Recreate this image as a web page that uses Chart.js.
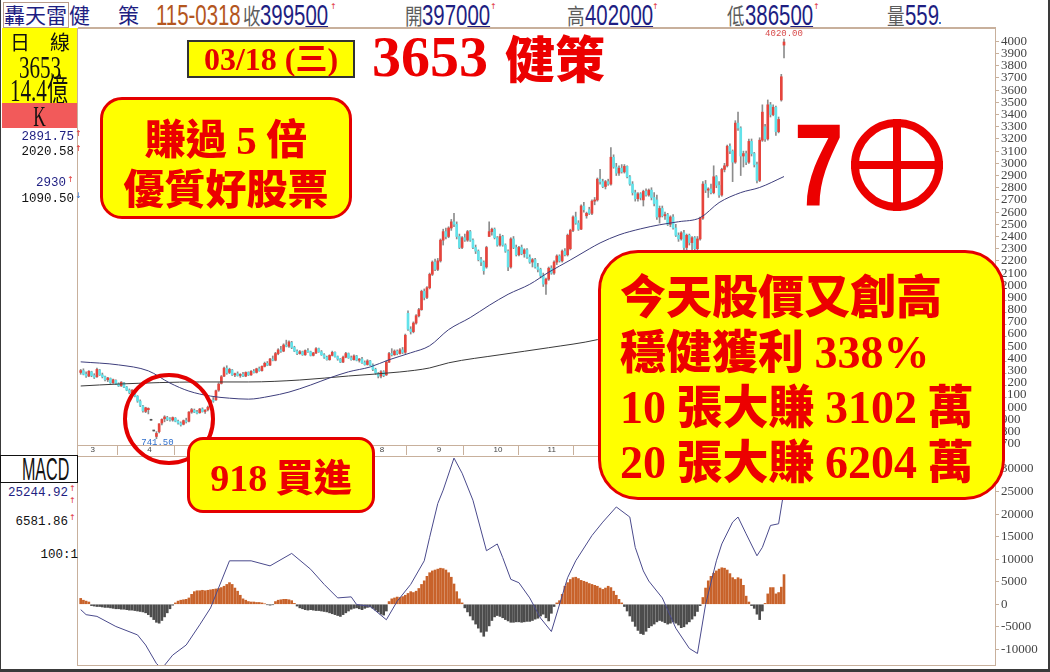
<!DOCTYPE html>
<html>
<head>
<meta charset="utf-8">
<title>3653 健策</title>
<script src="https://cdn.jsdelivr.net/npm/chart.js@4.4.1/dist/chart.umd.min.js"></script>
<style>
  body { margin: 0; background: #fff; }
  #page { position: relative; width: 1050px; height: 672px; overflow: hidden; background: #fff;
          font-family: "Liberation Serif", "Noto Sans CJK TC", serif; }
  .a { position: absolute; white-space: nowrap; }
  .tan { position: absolute; background: #c8b09c; }
  .edge { position: absolute; background: #3a3a3a; }
  .navy { color: #1e1e82; }
  .gray { color: #5c5c5c; }
  .hz { font-family: "Noto Sans CJK TC", sans-serif; font-size: 22px; line-height: 28px; top: 0; }
  .hzs { transform: scaleX(0.8); transform-origin: 0 0; }
  .hn { font-family: "Liberation Sans", sans-serif; font-size: 30px; line-height: 30px; top: 0;
        transform: scaleX(0.68); transform-origin: 0 0; }
  .hn u { text-decoration-thickness: 1px; text-underline-offset: 1px; }
  .mk { font-size: 8px; line-height: 8px; color: #e03030; font-family: "DejaVu Sans", sans-serif; }
  .lc { left: -41px; width: 161px; text-align: center; font-size: 32px; line-height: 32px; color: #111; }
  .lc span { display: inline-block; transform: scaleX(0.66); }
  .lz { font-family: "Noto Sans CJK TC", sans-serif; font-size: 20px; line-height: 20px; color: #111; }
  .lv { font-family: "Liberation Mono", monospace; font-size: 12.5px; line-height: 14px; text-align: right; }
  .box { position: absolute; background: #ffff00; border: 3px solid #e40000; box-sizing: border-box; }
  .t { position: absolute; white-space: nowrap; line-height: 1; color: #ec0000; font-weight: 900;
       font-family: "Noto Sans CJK TC", sans-serif; }
  .t b { font-family: "Liberation Serif", serif; font-weight: bold; }
</style>
</head>
<body>
<div id="page">
  <!-- header row -->
  <div class="a" style="left:3px;top:2px;width:64px;height:24px;border:1px solid #b89c8c"></div>
  <div class="a hz navy" style="left:4px;font-size:21px">轟天雷</div>
  <div class="a hz navy" style="left:69px;font-size:21px">健</div>
  <div class="a hz navy" style="left:118px;font-size:21px">策</div>
  <div class="a hn" style="left:156px;color:#b4561e">115-0318</div>
  <div class="a hz hzs gray" style="left:243px">收</div>
  <div class="a hn navy" style="left:260px">3995<u>00</u></div>
  <div class="a mk" style="left:330px;top:3px">↑</div>
  <div class="a hz hzs gray" style="left:405px">開</div>
  <div class="a hn navy" style="left:422px">3970<u>00</u></div>
  <div class="a mk" style="left:490px;top:3px">↑</div>
  <div class="a hz hzs gray" style="left:567px">高</div>
  <div class="a hn navy" style="left:585px">4020<u>00</u></div>
  <div class="a mk" style="left:652px;top:3px">↑</div>
  <div class="a hz hzs gray" style="left:727px">低</div>
  <div class="a hn navy" style="left:745px">3865<u>00</u></div>
  <div class="a mk" style="left:813px;top:3px">↑</div>
  <div class="a hz hzs gray" style="left:887px">量</div>
  <div class="a hn navy" style="left:905px">559</div>
  <div class="a" style="left:939px;top:22px;width:2px;height:2px;background:#3a78d0"></div>

  <!-- chart canvases -->
  <canvas id="price" class="a" width="972" height="428" style="left:78px;top:28px"></canvas>
  <canvas id="macd" class="a" width="972" height="210" style="left:78px;top:456px"></canvas>

  <!-- frame lines -->
  <div class="tan" style="left:78px;top:27px;width:918px;height:2px"></div>
  <div class="tan" style="left:77px;top:28px;width:1px;height:638px"></div>
  <div class="tan" style="left:78px;top:456px;width:917px;height:1px"></div>
  <div class="tan" style="left:78px;top:665px;width:917px;height:1px"></div>
  <div class="edge" style="left:0;top:0;width:1px;height:672px"></div>
  <div class="edge" style="left:1048px;top:0;width:2px;height:672px"></div>
  <div class="edge" style="left:0;top:669px;width:1050px;height:3px"></div>

  <!-- left panel -->
  <div class="a" style="left:2px;top:28px;width:75px;height:75px;background:#ffff00"></div>
  <div class="a lz" style="left:10px;top:32px">日</div>
  <div class="a lz" style="left:50px;top:32px">線</div>
  <div class="a lc" style="top:51px"><span>3653</span></div>
  <div class="a lc" style="top:74px"><span>14.4億</span></div>
  <div class="a" style="left:2px;top:103px;width:75px;height:25px;background:#f25a5a"></div>
  <div class="a lc" style="top:102px;font-size:29px;line-height:29px"><span style="transform:scaleX(0.6)">K</span></div>
  <div class="a lv navy" style="right:976px;top:130px">2891.75</div>
  <div class="a mk" style="left:75px;top:130px">↑</div>
  <div class="a lv" style="right:976px;top:145px;color:#111">2020.58</div>
  <div class="a mk" style="left:75px;top:145px">↑</div>
  <div class="a lv navy" style="right:984px;top:176px">2930</div>
  <div class="a mk" style="left:67px;top:176px">↑</div>
  <div class="a lv" style="right:976px;top:192px;color:#111">1090.50</div>
  <div class="a mk" style="left:75px;top:192px;color:#3a78d0">↓</div>

  <div class="a" style="left:0;top:455px;width:78px;height:28px;border:1.5px solid #111;box-sizing:border-box;background:#fff"></div>
  <div class="a" style="left:0;top:455px;width:78px;text-align:center;font-family:'Liberation Sans';font-size:31px;line-height:29px;color:#111"><span style="display:inline-block;transform:scaleX(0.52)">MACD</span></div>
  <div class="a lv navy" style="right:982px;top:486px">25244.92</div>
  <div class="a mk" style="left:69px;top:485px">↑</div>
  <div class="a mk" style="left:69px;top:497px">↑</div>
  <div class="a lv" style="right:982px;top:515px;color:#111">6581.86</div>
  <div class="a mk" style="left:69px;top:514px">↑</div>
  <div class="a lv" style="right:972px;top:548px;color:#111">100:1</div>

  <!-- annotations -->
  <div class="a" style="left:123px;top:373px;width:92px;height:92px;border:4px solid #e40000;border-radius:50%;box-sizing:border-box"></div>

  <div class="box" style="left:187px;top:40px;width:168px;height:38px;border:2px solid #333"></div>
  <div class="a" style="left:187px;top:43px;width:168px;text-align:center;font-size:32px;line-height:32px;font-weight:bold;color:#e40000">03/18 (三)</div>

  <div class="a" style="left:372px;top:28px;font-size:58px;line-height:58px;font-weight:bold;color:#ec0000">3653</div>
  <div class="t" style="left:505px;top:31px;font-size:50px">健策</div>

  <div class="box" style="left:100px;top:97px;width:252px;height:122px;border-radius:22px"></div>
  <div class="t" style="left:100px;top:116px;width:252px;text-align:center;font-size:41px">賺過 <b>5</b> 倍</div>
  <div class="t" style="left:100px;top:166px;width:252px;text-align:center;font-size:41px">優質好股票</div>

  <div class="box" style="left:187px;top:437px;width:188px;height:76px;border-radius:16px"></div>
  <div class="t" style="left:187px;top:456px;width:188px;text-align:center;font-size:38px"><b>918</b> 買進</div>

  <div class="a" style="left:794px;top:107px;font-family:'Liberation Sans';font-weight:bold;font-size:116px;line-height:116px;color:#ec0000;transform:scaleX(0.77);transform-origin:0 0">7</div>
  <div class="a" style="left:851px;top:119px;width:92px;height:92px;border:8px solid #ec0000;border-radius:50%;box-sizing:border-box"></div>
  <div class="a" style="left:893px;top:119px;width:8px;height:92px;background:#ec0000"></div>
  <div class="a" style="left:851px;top:161px;width:92px;height:8px;background:#ec0000"></div>

  <div class="box" style="left:598px;top:250px;width:407px;height:250px;border-radius:40px"></div>
  <div class="t" style="left:620px;top:270px;font-size:46px">今天股價又創高</div>
  <div class="t" style="left:620px;top:325px;font-size:46px">穩健獲利 <b>338%</b></div>
  <div class="t" style="left:620px;top:380px;font-size:46px"><b>10</b> 張大賺 <b>3102</b> 萬</div>
  <div class="t" style="left:620px;top:435px;font-size:46px"><b>20</b> 張大賺 <b>6204</b> 萬</div>
</div>

<script>
// daily candles, 2025/02 .. 2026/03/18 (index = trading day)
const opens = [
  1285,1300,1270,1255,1290,1260,1250,1305,1265,1250,
  1225,1235,1200,1220,1190,1175,1200,1165,1140,1120,
  1135,1090,1050,1010,965,980,893,805,760,800,
  870,905,915,900,895,910,885,870,860,890,
  885,960,975,960,955,985,965,980,1005,1055,
  1060,1140,1195,1255,1320,1285,1305,1265,1275,1260,
  1270,1255,1285,1265,1295,1285,1315,1300,1335,1360,
  1345,1395,1385,1440,1470,1460,1510,1500,1530,1490,
  1460,1440,1455,1430,1465,1455,1425,1445,1480,1455,
  1430,1410,1390,1425,1450,1415,1395,1370,1410,1440,
  1405,1390,1420,1385,1395,1365,1350,1380,1345,1310,
  1275,1255,1290,1265,1370,1440,1430,1460,1440,1470,
  1450,1770,1640,1620,1690,1750,1800,1950,1900,1980,
  2090,2190,2130,2200,2370,2440,2400,2470,2520,2500,
  2400,2310,2390,2370,2440,2370,2310,2280,2210,2190,
  2150,2400,2440,2460,2390,2330,2400,2330,2280,2150,
  2380,2310,2250,2310,2260,2290,2230,2190,2210,2150,
  2130,2080,2010,2050,2140,2100,2190,2240,2200,2280,
  2250,2300,2450,2560,2510,2460,2650,2570,2620,2590,
  2690,2700,2870,2850,2810,2850,2830,3050,2970,2920,
  2960,2930,2975,2890,2830,2760,2710,2750,2700,2770,
  2740,2780,2720,2700,2560,2630,2570,2580,2500,2560,
  2470,2410,2380,2430,2310,2410,2350,2390,2300,2380,
  2550,2830,2780,2790,2760,2890,2820,2740,2950,2980,
  3140,3100,3010,3330,3290,3060,3080,3010,3180,3080,
  2990,2860,3190,3300,3200,3480,3400,3460,3260,3520,3970
];
const highs = [
  1310,1315,1290,1300,1295,1275,1320,1310,1280,1255,
  1245,1240,1230,1225,1200,1210,1205,1170,1150,1145,
  1140,1095,1060,1015,1000,995,893,805,800,864,
  905,930,925,915,920,915,895,880,895,910,
  965,990,985,975,990,995,980,1010,1060,1080,
  1140,1200,1260,1330,1340,1320,1310,1280,1290,1275,
  1285,1290,1290,1300,1310,1320,1330,1340,1370,1375,
  1400,1420,1450,1480,1500,1520,1550,1545,1540,1500,
  1470,1465,1460,1470,1480,1460,1450,1490,1485,1465,
  1440,1420,1430,1460,1455,1420,1400,1420,1450,1445,
  1420,1430,1425,1400,1410,1380,1390,1385,1355,1320,
  1285,1300,1300,1380,1450,1480,1470,1470,1480,1490,
  1600,1790,1660,1700,1760,1810,1960,1970,1990,2100,
  2200,2215,2220,2380,2460,2470,2480,2540,2590,2520,
  2420,2400,2420,2450,2450,2380,2330,2290,2230,2200,
  2320,2520,2470,2470,2400,2420,2410,2340,2290,2390,
  2400,2330,2320,2330,2300,2300,2250,2220,2220,2180,
  2140,2100,2060,2150,2160,2200,2250,2250,2290,2300,
  2420,2460,2570,2600,2530,2660,2680,2600,2640,2700,
  2720,2880,2950,2870,2860,2870,3130,3070,3000,2980,
  2990,2990,2980,2900,2850,2780,2760,2760,2780,2790,
  2790,2800,2760,2740,2650,2650,2600,2590,2570,2580,
  2500,2430,2440,2450,2420,2420,2400,2400,2400,2560,
  2850,2860,2800,2830,2980,2900,2850,2960,3000,3150,
  3160,3110,3350,3420,3300,3100,3100,3200,3200,3090,
  3010,3210,3480,3320,3520,3500,3480,3470,3380,3730,4020
];
const lows = [
  1270,1265,1245,1250,1250,1235,1245,1260,1240,1215,
  1210,1195,1195,1185,1170,1170,1160,1135,1110,1115,
  1085,1040,1005,960,955,945,893,805,741.5,790,
  855,880,890,885,885,880,860,845,855,870,
  880,950,955,945,950,960,950,970,1000,1040,
  1055,1130,1190,1250,1270,1275,1260,1250,1255,1245,
  1250,1250,1260,1260,1280,1280,1295,1295,1330,1340,
  1340,1380,1380,1430,1450,1455,1495,1490,1480,1455,
  1430,1435,1425,1425,1450,1420,1420,1440,1450,1425,
  1400,1385,1385,1420,1410,1385,1365,1365,1405,1400,
  1385,1385,1380,1370,1360,1345,1345,1340,1300,1270,
  1240,1240,1250,1260,1365,1420,1425,1430,1435,1440,
  1440,1630,1600,1610,1680,1740,1795,1880,1890,1970,
  2080,2120,2120,2190,2330,2380,2390,2450,2480,2380,
  2300,2300,2360,2360,2360,2300,2260,2200,2160,2090,
  2140,2400,2410,2380,2320,2320,2320,2270,2120,2140,
  2300,2240,2240,2250,2230,2220,2180,2150,2140,2110,
  2060,1990,1925,2040,2090,2090,2170,2190,2190,2240,
  2240,2290,2440,2500,2450,2455,2600,2550,2580,2580,
  2660,2690,2830,2800,2790,2820,2820,2960,2900,2900,
  2920,2920,2880,2820,2740,2690,2690,2700,2650,2730,
  2730,2700,2650,2540,2510,2560,2540,2490,2480,2460,
  2400,2360,2370,2290,2290,2330,2290,2290,2290,2370,
  2540,2760,2720,2750,2750,2800,2720,2730,2930,2970,
  3080,2850,3000,3270,2900,2970,2990,3000,3060,2970,
  2840,2850,3180,3180,3190,3380,3390,3230,3250,3510,3865
];
const closes = [
  1300,1270,1255,1295,1260,1245,1310,1265,1250,1225,
  1240,1200,1225,1190,1175,1205,1165,1140,1120,1140,
  1090,1050,1015,970,995,990,893,805,785,864,
  900,920,900,895,915,885,870,855,890,880,
  960,980,960,950,985,965,975,1000,1055,1050,
  1135,1190,1250,1320,1280,1310,1265,1275,1260,1270,
  1255,1285,1265,1295,1285,1315,1300,1335,1360,1345,
  1395,1385,1440,1470,1460,1510,1500,1535,1490,1460,
  1440,1455,1430,1465,1455,1425,1445,1480,1455,1430,
  1410,1390,1425,1450,1415,1395,1370,1410,1440,1405,
  1390,1420,1385,1395,1365,1350,1380,1345,1310,1280,
  1255,1290,1260,1370,1440,1430,1460,1440,1470,1450,
  1590,1640,1620,1690,1750,1800,1950,1900,1980,2090,
  2190,2130,2200,2370,2440,2400,2470,2520,2500,2400,
  2310,2390,2370,2440,2370,2310,2280,2210,2190,2120,
  2310,2440,2460,2390,2330,2400,2330,2280,2150,2380,
  2310,2250,2310,2260,2290,2230,2190,2210,2150,2130,
  2080,2010,2050,2140,2100,2190,2240,2200,2280,2250,
  2410,2450,2560,2510,2460,2650,2620,2590,2590,2690,
  2700,2870,2850,2810,2850,2830,3050,2970,2920,2960,
  2930,2975,2890,2830,2760,2710,2750,2720,2770,2740,
  2780,2720,2670,2560,2630,2570,2580,2500,2560,2470,
  2410,2380,2430,2310,2410,2350,2390,2300,2380,2550,
  2830,2780,2790,2760,2890,2820,2740,2950,2980,3140,
  3100,3010,3330,3290,3060,3080,3010,3180,3080,2990,
  2860,3190,3420,3200,3480,3400,3460,3260,3360,3710,3995
];

// moving averages (day index, value)
const maFastDay = [0,14,25,33,40,48,55,62,70,77,85,92,99,107,114,122,129,136,144,151,158,166,173,181,188,192,199,207,214,221,229,236,244,251,260];
const maFastVal = [1372,1347,1298,1198,1132,1091,1074,1066,1090,1124,1182,1240,1290,1330,1389,1446,1504,1636,1735,1835,1926,2008,2107,2207,2298,2347,2413,2463,2496,2521,2554,2678,2760,2802,2891.75];
const maSlowDay = [0,14,44,62,81,99,118,129,136,155,173,191,220,240,260];
const maSlowVal = [1174,1190,1207,1207,1223,1256,1289,1322,1364,1430,1488,1554,1740,1880,2020.58];

// MACD histogram (one per day) and DIF line points
const osc = [
  1300,900,700,500,-300,-400,-500,-500,-600,-700,
  -700,-800,-900,-1000,-1000,-1100,-1100,-1200,-1300,-1300,
  -1400,-1500,-1600,-1700,-1900,-2300,-2800,-3400,-4000,-4200,
  -3600,-2800,-1900,-1000,-200,300,700,900,1000,1100,
  1400,2200,2800,3000,3000,3100,3000,3100,3200,3300,
  3400,3500,3700,4000,4400,4800,4400,3600,2900,2000,
  1200,900,600,500,500,400,400,300,100,-100,
  -200,-100,600,900,1000,1100,1100,1000,800,200,
  -400,-800,-1000,-1200,-1300,-1200,-1300,-1400,-1400,-1500,
  -1600,-1700,-1900,-2100,-2300,-2500,-2700,-2300,-1900,-1500,
  -1100,-900,-800,-1000,-1200,-900,-700,-600,-900,-1300,
  -1700,-2200,-2400,-1500,600,1200,1400,1600,1500,1700,
  2000,2400,2800,2600,2900,3500,4400,5200,6200,7000,
  7400,7600,7800,8000,7900,7600,7000,6000,4500,2800,
  1200,300,-800,-1700,-2600,-3500,-4400,-5300,-6200,-7100,
  -6000,-4800,-3600,-2800,-2500,-2700,-3000,-3400,-3700,-4000,
  -4000,-3900,-3900,-4000,-3900,-3800,-3800,-3600,-3300,-3100,
  -2600,-2200,-3000,-3700,-2000,-500,300,800,2200,4000,
  4800,5500,5900,6000,5700,5300,5100,4900,4600,4400,
  4200,4000,3600,3300,3600,4000,3700,2900,2000,1100,
  300,-500,-1500,-2600,-3800,-4900,-5800,-6500,-6700,-6000,
  -5200,-4800,-4400,-3900,-3600,-3800,-4100,-4400,-4200,-3900,
  -4200,-4600,-5200,-5000,-4400,-3900,-3300,-2600,-1600,-300,
  1500,3600,5200,6200,6900,7400,7800,8100,8000,7600,
  6800,5900,5500,5900,5600,4200,1800,500,-300,-900,
  -2200,-3400,-1500,200,2300,3700,3700,2300,2600,3800,6581.86
];
const difDay = [0,2,6,13,21,24,28,30,34,39,44,48,52,55,63,70,78,85,90,95,100,102,107,113,117,122,127,129,132,134,138,141,145,150,154,156,159,162,166,170,174,180,183,189,193,198,203,205,208,210,215,220,225,228,231,235,237,241,243,246,250,252,255,258,260];
const difVal = [-1190,-2310,-2690,-4930,-6800,-9040,-13160,-14280,-11280,-9040,-4560,-820,5160,9640,9640,8520,11280,7770,4410,1410,1640,-70,-450,-3440,670,4410,9640,14870,22350,25330,32440,29080,23090,11880,13380,10380,5530,4780,1410,-3070,-6050,5900,9640,15250,18230,21590,19350,12620,7400,5160,1410,-5310,-9800,-10920,-70,9640,13380,18230,19350,15620,10760,12620,17490,17860,25244.92];

// axes
const monthDay = [3,24,45,66,88,110,131,152,172,192,215,235,249];
const monthLabels = ['3','4','5','6','7','8','9','10','11','12','1','2','3'];
const priceTicks = [700,800,900,1000,1100,1200,1300,1400,1500,1600,1700,1800,1900,2000,2100,2200,2300,2400,2500,2600,2700,2800,2900,3000,3100,3200,3300,3400,3500,3600,3700,3800,3900,4000];
const macdTicks = [-10000,-5000,0,5000,10000,15000,20000,25000,30000];

const TAN = '#c8b09c';
const UP = '#e6443c', DOWN = '#62e2ea', WICK = '#8c8c8c';

const wickData = closes.map((c, i) => ({ x: i, y: [Math.min(lows[i], opens[i], c), Math.max(highs[i], opens[i], c)] }));
const bodyData = closes.map((c, i) => ({ x: i, y: [opens[i], c] }));
const bodyColors = closes.map((c, i) => highs[i] === lows[i] ? '#555' : (c >= opens[i] ? UP : DOWN));

const xAxis = {
  type: 'linear', min: -1, max: 338, offset: false
};

function rightAxis(ticksList, min, max) {
  return {
    type: 'linear', position: 'right', min, max,
    afterBuildTicks: s => { s.ticks = ticksList.map(v => ({ value: v })); },
    afterFit: s => { s.width = 55; s.paddingTop = 0; s.paddingBottom = 0; },
    grid: { drawOnChartArea: false, color: TAN, tickLength: 4 },
    border: { color: TAN },
    ticks: { autoSkip: false, padding: 2, color: '#444',
             font: { family: 'Liberation Serif', size: 13 },
             callback: v => String(v) }
  };
}

// high / low price labels
const extremeLabels = {
  id: 'extremeLabels',
  afterDatasetsDraw(chart) {
    const { ctx, scales: { x, y } } = chart;
    const hi = highs.indexOf(Math.max(...highs));
    const lo = lows.indexOf(Math.min(...lows));
    ctx.save();
    ctx.font = '9px "Liberation Mono"';
    ctx.textAlign = 'center';
    ctx.fillStyle = '#d84a4a';
    ctx.textBaseline = 'bottom';
    ctx.fillText(highs[hi].toFixed(2), x.getPixelForValue(hi), y.getPixelForValue(highs[hi]) - 1);
    ctx.fillStyle = '#2f6fcc';
    ctx.textBaseline = 'top';
    ctx.fillText(lows[lo].toFixed(2), x.getPixelForValue(lo) + 1, y.getPixelForValue(lows[lo]) - 1);
    ctx.restore();
  }
};

new Chart(document.getElementById('price'), {
  type: 'bar',
  data: {
    datasets: [
      { type: 'bar', data: wickData, backgroundColor: WICK, barThickness: 1, grouped: false, order: 3 },
      { type: 'bar', data: bodyData, backgroundColor: bodyColors, barThickness: 2, minBarLength: 1, grouped: false, order: 2 },
      { type: 'line', data: maFastDay.map((d, k) => ({ x: d, y: maFastVal[k] })), borderColor: '#3e3e7c',
        borderWidth: 1, pointRadius: 0, cubicInterpolationMode: 'monotone', order: 1 },
      { type: 'line', data: maSlowDay.map((d, k) => ({ x: d, y: maSlowVal[k] })), borderColor: '#3a3a3a',
        borderWidth: 1, pointRadius: 0, cubicInterpolationMode: 'monotone', order: 1 }
    ]
  },
  options: {
    responsive: false, animation: false, devicePixelRatio: 1,
    layout: { padding: 0 },
    plugins: { legend: { display: false }, tooltip: { enabled: false } },
    scales: {
      x: {
        ...xAxis, position: 'bottom',
        afterBuildTicks: s => { s.ticks = monthDay.map(v => ({ value: v })); },
        afterFit: s => { s.height = 11; s.paddingLeft = 0; s.paddingRight = 0; },
        grid: { drawOnChartArea: false, color: TAN, tickLength: 10 },
        border: { color: TAN },
        ticks: { autoSkip: false, maxRotation: 0, align: 'start', padding: -10, color: '#444',
                 font: { family: 'Liberation Sans', size: 8 },
                 callback: (v, i) => '\u2009' + monthLabels[i] }
      },
      y: rightAxis(priceTicks, 690, 4110)
    }
  },
  plugins: [extremeLabels]
});

new Chart(document.getElementById('macd'), {
  type: 'bar',
  data: {
    datasets: [
      { type: 'bar', data: osc.map((v, i) => ({ x: i, y: v })),
        backgroundColor: osc.map(v => v >= 0 ? '#c8622a' : '#4c4c4c'), barThickness: 2, grouped: false, order: 2 },
      { type: 'line', data: difDay.map((d, k) => ({ x: d, y: difVal[k] })), borderColor: '#4a4a8c',
        borderWidth: 1, pointRadius: 0, tension: 0, order: 1 }
    ]
  },
  options: {
    responsive: false, animation: false, devicePixelRatio: 1,
    layout: { padding: 0 },
    plugins: { legend: { display: false }, tooltip: { enabled: false } },
    scales: {
      x: { ...xAxis, display: false },
      y: rightAxis(macdTicks, -13700, 32900)
    }
  }
});
</script>
</body>
</html>
